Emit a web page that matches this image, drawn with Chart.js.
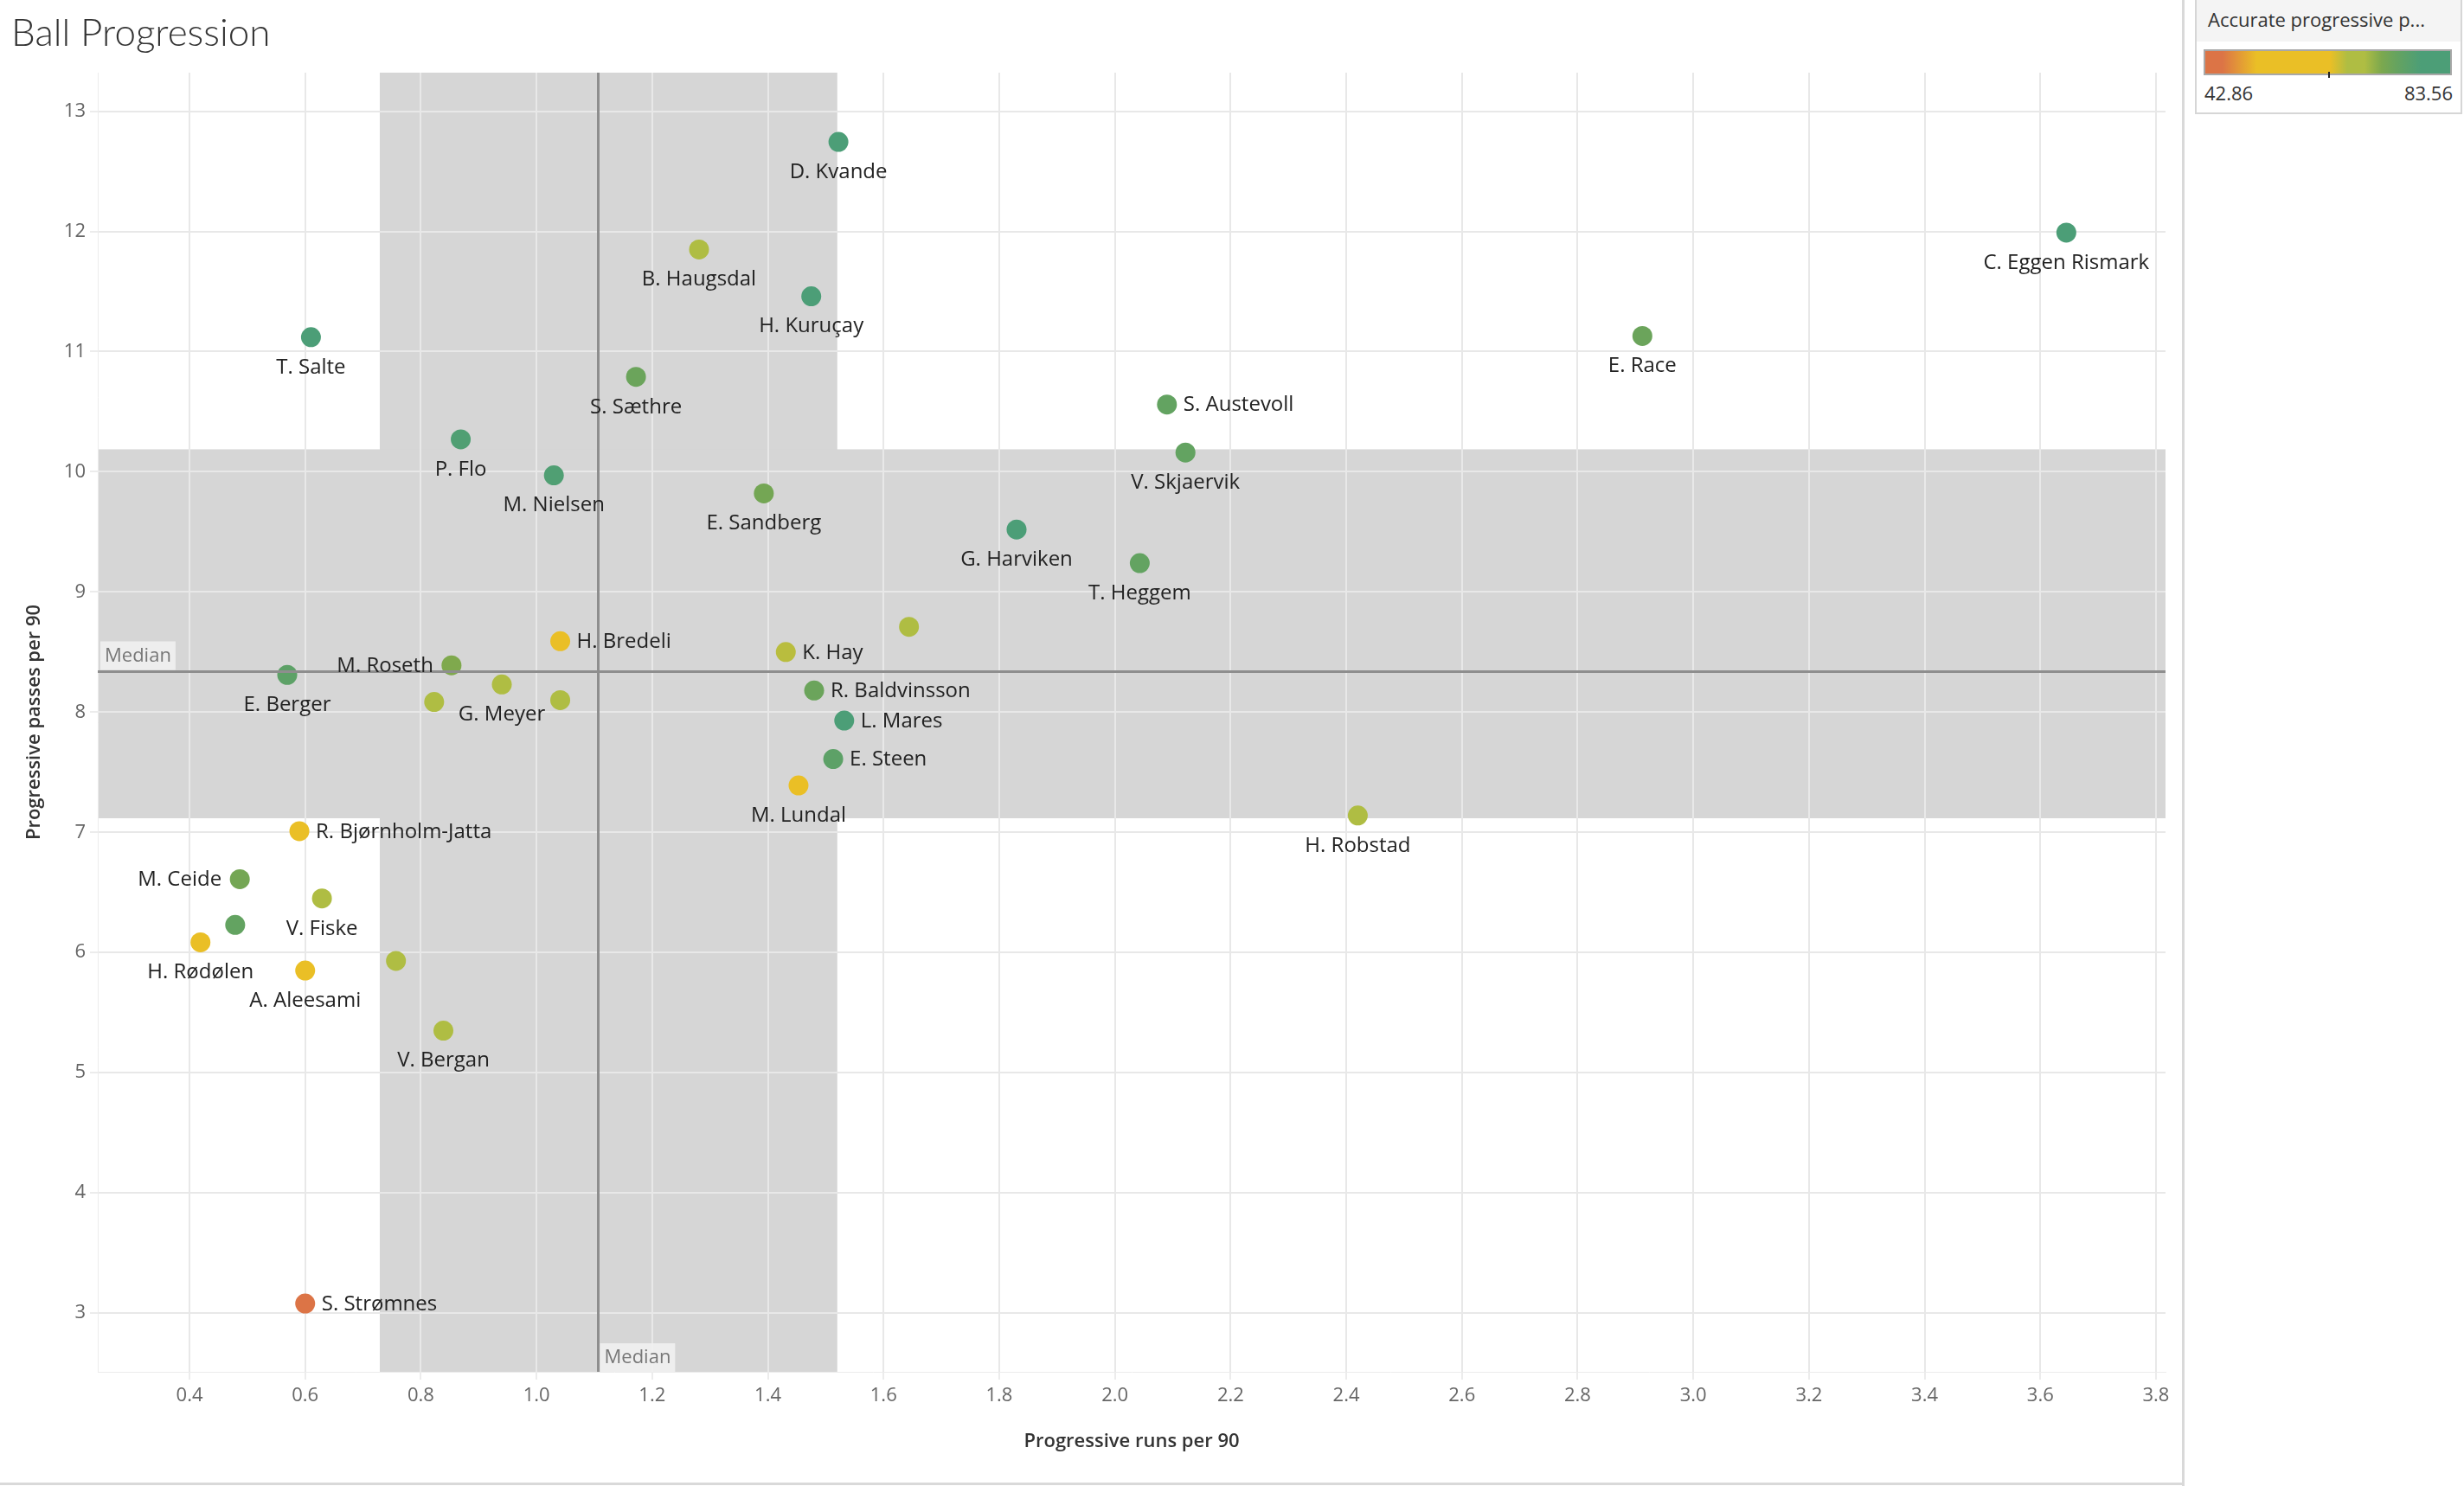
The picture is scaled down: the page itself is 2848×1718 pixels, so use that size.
<!DOCTYPE html>
<html>
<head>
<meta charset="utf-8">
<script src="https://cdn.jsdelivr.net/npm/chart.js@4.4.1/dist/chart.umd.min.js"></script>
<style>
  html, body { margin:0; padding:0; background:#fff; width:2848px; height:1718px; overflow:hidden; font-family:"Open Sans", sans-serif; }
  #title { position:absolute; z-index:5; left:13px; top:10px; font-family:"Lato","Open Sans",sans-serif; font-size:44px; color:#333; font-weight:300; }
  #wrap { position:absolute; z-index:1; left:0; top:0; width:2522px; height:1714px; }
  #vline { position:absolute; left:2522px; top:0; width:3px; height:1718px; background:#d9d9d9; }
  #hline { position:absolute; left:0; top:1714px; width:2525px; height:3px; background:#d9d9d9; }
  #legend { position:absolute; left:2537px; top:-2px; width:305px; height:130px; border:2px solid #d6d6d6; background:#fff; }
  #legTitle { position:absolute; left:0; top:0; width:305px; height:48px; background:#f4f4f4; font-size:22px; color:#333; line-height:44px; padding-left:13px; box-sizing:border-box; white-space:nowrap; }
  #legBar { position:absolute; left:8px; top:57px; width:287px; height:30px; border:2px solid #a8a8a8; box-sizing:border-box; }
  #legTick { position:absolute; left:152px; top:83px; width:2px; height:7px; background:#222; }
  #legMin { position:absolute; left:9px; top:92px; font-size:22px; color:#333; }
  #legMax { position:absolute; right:9px; top:92px; font-size:22px; color:#333; }
</style>
</head>
<body>
<div id="wrap"><canvas id="c" width="2522" height="1714"></canvas></div>
<div id="title">Ball Progression</div>
<div id="vline"></div>
<div id="hline"></div>
<div id="legend">
  <div id="legTitle">Accurate progressive p...</div>
  <div id="legBar"></div>
  <div id="legTick"></div>
  <div id="legMin">42.86</div>
  <div id="legMax">83.56</div>
</div>
<script>
// ---------------- data ----------------
const players = ["D. Kvande","C. Eggen Rismark","B. Haugsdal","H. Kuruçay","T. Salte","E. Race","S. Sæthre","S. Austevoll","P. Flo","V. Skjaervik","M. Nielsen","E. Sandberg","G. Harviken","T. Heggem","","H. Bredeli","K. Hay","M. Roseth","E. Berger","G. Meyer","R. Baldvinsson","","","L. Mares","E. Steen","M. Lundal","H. Robstad","R. Bjørnholm-Jatta","M. Ceide","V. Fiske","","H. Rødølen","","A. Aleesami","V. Bergan","S. Strømnes"];
const progressiveRuns = [1.522,3.645,1.281,1.475,0.610,2.912,1.172,2.090,0.869,2.122,1.030,1.393,1.830,2.043,1.644,1.041,1.431,0.853,0.569,0.940,1.480,0.823,1.041,1.532,1.513,1.453,2.420,0.590,0.487,0.629,0.479,0.419,0.757,0.600,0.839,0.600];
const progressivePasses = [12.745,11.99,11.85,11.46,11.12,11.13,10.79,10.56,10.27,10.16,9.97,9.82,9.52,9.24,8.71,8.59,8.50,8.39,8.31,8.23,8.18,8.085,8.10,7.93,7.61,7.39,7.14,7.01,6.61,6.45,6.23,6.085,5.93,5.85,5.35,3.079];
const accuracy = [81,82,68,79,80,74,74,75,78,75,78,73,80,75,68,59,66,72,76,68,74,68,67,81,76,57,67,57,73,68,75,57,68,57,67,42.86];
const accuracyRange = [42.86, 83.56];
const xTicks = [0.4,0.6,0.8,1.0,1.2,1.4,1.6,1.8,2.0,2.2,2.4,2.6,2.8,3.0,3.2,3.4,3.6,3.8];
const yTicks = [3,4,5,6,7,8,9,10,11,12,13];
const medianRuns = 1.106;
const medianPasses = 8.344;
const runsBand = [0.729, 1.520];
const passesBand = [7.117, 10.187];

// ---------------- styles ----------------
const labelSide = {"S. Austevoll":"right","H. Bredeli":"right","K. Hay":"right","R. Baldvinsson":"right","L. Mares":"right","E. Steen":"right","R. Bjørnholm-Jatta":"right","S. Strømnes":"right","M. Roseth":"left","M. Ceide":"left"};
const colorStops = [[0,'#dc7446'],[0.07,'#dc7446'],[0.21,'#eabf26'],[0.51,'#eabf26'],[0.58,'#afbd43'],[0.65,'#afbd43'],[0.72,'#7ca84e'],[0.78,'#66a35f'],[0.88,'#4c9e77'],[1,'#4c9e77']];

function hexToRgb(h){ return [parseInt(h.slice(1,3),16),parseInt(h.slice(3,5),16),parseInt(h.slice(5,7),16)]; }
function colorFor(v){
  let f = (v-accuracyRange[0])/(accuracyRange[1]-accuracyRange[0]);
  f = Math.max(0, Math.min(1, f));
  for (let i=1;i<colorStops.length;i++){
    if (f <= colorStops[i][0]){
      const [f0,c0]=colorStops[i-1], [f1,c1]=colorStops[i];
      const t = f1===f0?0:(f-f0)/(f1-f0);
      const a=hexToRgb(c0), b=hexToRgb(c1);
      return 'rgb('+a.map((x,k)=>Math.round(x+(b[k]-x)*t)).join(',')+')';
    }
  }
  return colorStops[colorStops.length-1][1];
}
document.getElementById('legBar').style.background = 'linear-gradient(to right,' + colorStops.map(s=>s[1]+' '+(s[0]*100)+'%').join(',') + ')';

const FONT = '"Open Sans", sans-serif';

const bandPlugin = {
  id:'bands',
  beforeDraw(chart){
    const {ctx, chartArea:a, scales:{x,y}} = chart;
    ctx.save();
    ctx.fillStyle = '#d6d6d6';
    const x0 = x.getPixelForValue(runsBand[0]), x1 = x.getPixelForValue(runsBand[1]);
    ctx.fillRect(x0, a.top, x1-x0, a.bottom-a.top);
    const y0 = y.getPixelForValue(passesBand[1]), y1 = y.getPixelForValue(passesBand[0]);
    ctx.fillRect(a.left, y0, a.right-a.left, y1-y0);
    ctx.restore();
  },
  afterDatasetsDraw(chart){
    const {ctx, chartArea:a, scales:{x,y}} = chart;
    ctx.save();
    ctx.strokeStyle = '#8e8e8e';
    ctx.lineWidth = 3;
    const mx = Math.round(x.getPixelForValue(medianRuns))+0.5;
    const my = Math.round(y.getPixelForValue(medianPasses))+0.5;
    ctx.beginPath(); ctx.moveTo(mx,a.top); ctx.lineTo(mx,a.bottom); ctx.stroke();
    ctx.beginPath(); ctx.moveTo(a.left,my); ctx.lineTo(a.right,my); ctx.stroke();
    // median labels
    ctx.font = '22px ' + FONT;
    ctx.textBaseline = 'middle';
    ctx.textAlign = 'left';
    const w = ctx.measureText('Median').width + 10;
    ctx.fillStyle = 'rgba(240,240,240,0.92)';
    ctx.fillRect(a.left+3, my-35, w, 33);
    ctx.fillStyle = '#777';
    ctx.fillText('Median', a.left+8, my-18);
    ctx.fillStyle = 'rgba(240,240,240,0.92)';
    ctx.fillRect(mx+2, a.bottom-33, w, 33);
    ctx.fillStyle = '#777';
    ctx.fillText('Median', mx+7, a.bottom-16);
    // point labels
    ctx.font = '24px ' + FONT;
    ctx.fillStyle = '#222';
    const meta = chart.getDatasetMeta(0);
    meta.data.forEach((pt,i)=>{
      const name = players[i];
      if (!name) return;
      const side = labelSide[name] || 'below';
      if (side === 'below'){ ctx.textAlign='center'; ctx.fillText(name, pt.x, pt.y+35); }
      else if (side === 'right'){ ctx.textAlign='left'; ctx.fillText(name, pt.x+19, pt.y+1); }
      else { ctx.textAlign='right'; ctx.fillText(name, pt.x-21, pt.y+1); }
    });
    ctx.restore();
  }
};

const points = progressiveRuns.map((r,i)=>({x:r, y:progressivePasses[i]}));

new Chart(document.getElementById('c'), {
  type:'scatter',
  data:{ datasets:[{
    data: points,
    backgroundColor: accuracy.map(colorFor),
    borderWidth:0,
    pointRadius:11.5,
    pointHoverRadius:11.5
  }]},
  options:{
    responsive:false,
    animation:false,
    events:[],
    layout:{ padding:{ top:84, right:19, left:0, bottom:0 } },
    plugins:{ legend:{display:false}, tooltip:{enabled:false} },
    scales:{
      x:{
        type:'linear', min:0.2414, max:3.8165,
        afterBuildTicks(s){ s.ticks = xTicks.map(v=>({value:v})); },
        afterFit(s){ s.height = 128; },
        grid:{ color:'#e8e8e8', lineWidth:2, tickLength:9, tickColor:'#ececec' },
        border:{ display:true, color:'#ececec', width:1 },
        ticks:{ color:'#666', font:{size:22, family:FONT}, padding:6, callback:v=>Number(v).toFixed(1), maxRotation:0, autoSkip:false },
        title:{ display:true, text:'Progressive runs per 90', color:'#333', font:{size:22, weight:'600', family:FONT}, padding:{top:0,bottom:34} }
      },
      y:{
        type:'linear', min:2.511, max:13.321,
        afterBuildTicks(s){ s.ticks = yTicks.map(v=>({value:v})); },
        afterFit(s){ s.width = 113; },
        grid:{ color:'#e8e8e8', lineWidth:2, tickLength:9, tickColor:'#ececec' },
        border:{ display:true, color:'#ececec', width:1 },
        ticks:{ color:'#666', font:{size:22, family:FONT}, padding:5, autoSkip:false },
        title:{ display:true, text:'Progressive passes per 90', color:'#333', font:{size:22, weight:'600', family:FONT}, padding:{top:27,bottom:0} }
      }
    }
  },
  plugins:[bandPlugin]
});
</script>
</body>
</html>
